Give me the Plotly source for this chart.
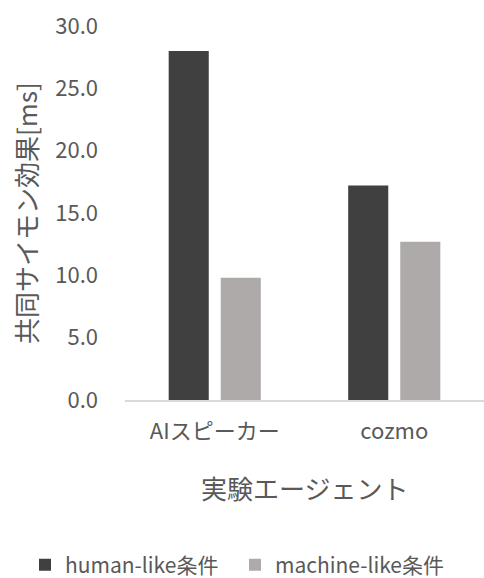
import plotly.graph_objects as go

categories = ["AIスピーカー", "cozmo"]
human_like = [28.0, 17.2]
machine_like = [9.8, 12.7]
series_names = ["human-like条件", "machine-like条件"]
tick_vals = [0, 5, 10, 15, 20, 25, 30]
tick_text = ["0.0", "5.0", "10.0", "15.0", "20.0", "25.0", "30.0"]
y_title = "共同サイモン効果[ms]"
x_title = "実験エージェント"

FONT = "Noto Sans CJK JP"
TXT = "#595959"

W, H = 484, 578
L, R, T, B = 125, 0, 26, 178
pw, ph = W - L - R, H - T - B


def px_x(x):
    return (x - L) / pw


def px_y(y):
    return (H - B - y) / ph


fig = go.Figure()
fig.add_trace(go.Bar(x=categories, y=human_like, name=series_names[0],
                     marker=dict(color="#404040", line=dict(width=0))))
fig.add_trace(go.Bar(x=categories, y=machine_like, name=series_names[1],
                     marker=dict(color="#AEAAAA", line=dict(width=0))))

fig.update_layout(
    width=W, height=H,
    margin=dict(l=L, r=R, t=T, b=B, autoexpand=False),
    paper_bgcolor="white", plot_bgcolor="white",
    barmode="group", bargap=0.42, bargroupgap=0.23,
    font=dict(family=FONT, color=TXT, size=21),
    showlegend=True,
    legend=dict(orientation="h", x=px_x(25), xanchor="left",
                y=px_y(565), yanchor="middle",
                font=dict(size=21, color=TXT), itemwidth=30,
                entrywidth=165, entrywidthmode="pixels",
                tracegroupgap=0),
    xaxis=dict(showgrid=False, showline=True, linecolor="#D9D9D9", linewidth=1.5,
               tickfont=dict(size=22, color=TXT), ticks="", ticklabelstandoff=11),
    yaxis=dict(range=[0, 30], tickvals=tick_vals, ticktext=tick_text,
               showgrid=False, zeroline=False, showline=False,
               tickfont=dict(size=22, color=TXT), ticklabelstandoff=26),
    annotations=[
        dict(text=y_title, x=px_x(25), y=px_y(213), xref="paper", yref="paper",
             xanchor="center", yanchor="middle",
             showarrow=False, textangle=-90, font=dict(size=26, color=TXT)),
        dict(text=x_title, x=px_x(304), y=px_y(487), xref="paper", yref="paper",
             xanchor="center", yanchor="middle", showarrow=False,
             font=dict(size=26, color=TXT)),
    ],
)

fig.write_html("out.html")
